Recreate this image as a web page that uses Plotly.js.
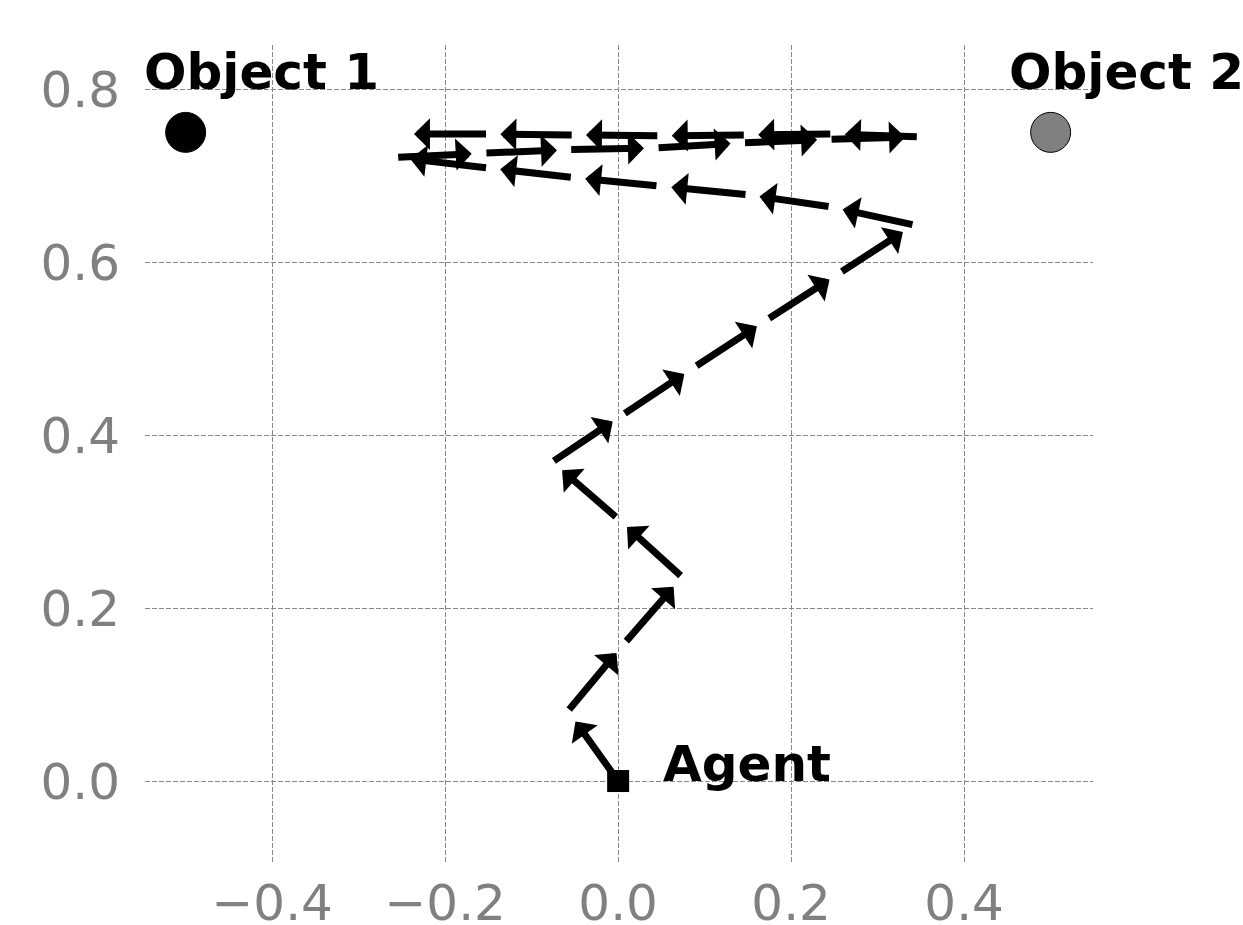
<!DOCTYPE html>
<html>
<head>
<meta charset="utf-8">
<script src="https://cdn.plot.ly/plotly-3.0.1.min.js"></script>
<style>html,body{margin:0;padding:0;background:#fff;}</style>
</head>
<body>
<div id="chart" style="width:1243px;height:925px;"></div>
<script>
// Agent trajectory (visited positions)
const trajX = [0.000, -0.058, 0.008, 0.074, -0.001, -0.076, 0.006, 0.089, 0.173, 0.257, 0.342,
               0.245, 0.149, 0.046, -0.053, -0.151, -0.256,
               -0.154, -0.056, 0.045, 0.145, 0.245, 0.347,
               0.247, 0.147, 0.047, -0.052, -0.151, -0.251];
const trajY = [0.000, 0.081, 0.160, 0.236, 0.304, 0.369, 0.424, 0.479, 0.534, 0.588, 0.643,
               0.664, 0.678, 0.688, 0.698, 0.709, 0.721,
               0.726, 0.730, 0.732, 0.738, 0.742, 0.745,
               0.748, 0.747, 0.746, 0.747, 0.748, 0.748];
// Objects and agent
const objectNames = ["Object 1", "Object 2"];
const objectX = [-0.5, 0.5];
const objectY = [0.75, 0.75];
const objectColors = ["black", "gray"];
const agentName = "Agent";
const agentX = [0.0];
const agentY = [0.0];
// Ticks
const xTicks = [-0.4, -0.2, 0.0, 0.2, 0.4];
const yTicks = [0.0, 0.2, 0.4, 0.6, 0.8];

const arrowScale = 0.85;
const annotations = [];
for (let i = 0; i < trajX.length - 1; i++) {
  const x0 = trajX[i], y0 = trajY[i];
  const x1 = x0 + arrowScale * (trajX[i + 1] - x0);
  const y1 = y0 + arrowScale * (trajY[i + 1] - y0);
  annotations.push({
    x: x1, y: y1, ax: x0, ay: y0,
    xref: 'x', yref: 'y', axref: 'x', ayref: 'y',
    text: '', showarrow: true,
    arrowhead: 1, arrowsize: 0.76, arrowwidth: 7, arrowcolor: 'black',
    standoff: 0, startstandoff: 0
  });
}
const labelFont = {family: 'DejaVu Sans', size: 50, color: 'black'};
for (let k = 0; k < objectNames.length; k++) {
  annotations.push({
    x: objectX[k], y: 0.82, xref: 'x', yref: 'y', xshift: -44,
    text: '<b>' + objectNames[k] + '</b>', showarrow: false,
    xanchor: 'left', yanchor: 'middle', font: labelFont
  });
}
annotations.push({
  x: agentX[0] + 0.05, y: agentY[0] + 0.02, xref: 'x', yref: 'y',
  text: '<b>' + agentName + '</b>', showarrow: false,
  xanchor: 'left', yanchor: 'middle', font: labelFont
});

const traces = [
  {
    x: objectX, y: objectY, mode: 'markers', type: 'scatter',
    marker: {size: 40, color: objectColors, line: {color: 'black', width: 1}},
    hoverinfo: 'skip', showlegend: false
  },
  {
    x: agentX, y: agentY, mode: 'markers', type: 'scatter',
    marker: {size: 22, symbol: 'square', color: 'black'},
    hoverinfo: 'skip', showlegend: false
  }
];

const axisCommon = {
  showline: false, zeroline: false, ticks: '',
  showgrid: true, gridcolor: '#888888', gridwidth: 1, griddash: '5px,2px',
  tickfont: {family: 'DejaVu Sans', size: 50, color: 'gray'},
  tickformat: '.1f', tickmode: 'array'
};

const layout = {
  width: 1243, height: 925,
  margin: {l: 145, r: 150, t: 45, b: 63, pad: 0},
  paper_bgcolor: 'white', plot_bgcolor: 'white',
  showlegend: false,
  xaxis: Object.assign({}, axisCommon, {range: [-0.547, 0.549], tickvals: xTicks, ticklabelstandoff: 7}),
  yaxis: Object.assign({}, axisCommon, {range: [-0.0936, 0.851], tickvals: yTicks, ticklabelstandoff: 24}),
  annotations: annotations
};

Plotly.newPlot('chart', traces, layout, {displayModeBar: false, staticPlot: true});
</script>
</body>
</html>
